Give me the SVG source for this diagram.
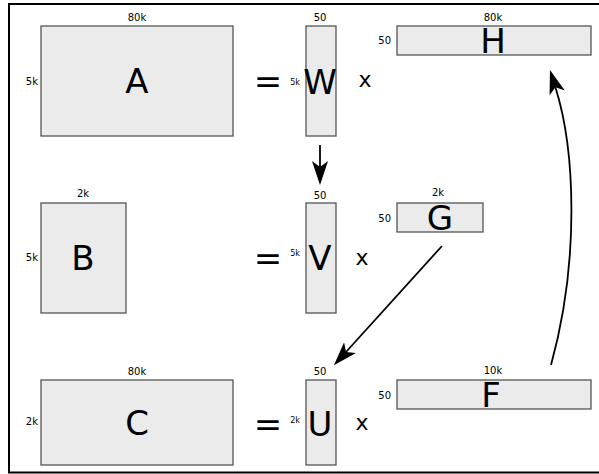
<svg xmlns="http://www.w3.org/2000/svg" width="599" height="474" viewBox="0 0 599 474">
<defs>
<style>
.m{fill:#ebebeb;stroke:#555;stroke-width:1.3}
.big{font-family:"DejaVu Sans",sans-serif;font-size:34px;text-anchor:middle;fill:#000}
.lb{font-family:"DejaVu Sans",sans-serif;font-size:10px;fill:#000}
.sm{font-family:"DejaVu Sans",sans-serif;font-size:8px;fill:#000;text-anchor:end}
.c{text-anchor:middle}
.e{text-anchor:end}
.op{font-family:"DejaVu Sans",sans-serif;font-size:22px;text-anchor:middle;fill:#000}
.eq{font-family:"DejaVu Sans",sans-serif;font-size:34px;text-anchor:middle;fill:#000}
.cn{fill:none;stroke:#000;stroke-width:1.8}
</style>
<marker id="ah" markerUnits="userSpaceOnUse" markerWidth="30" markerHeight="20" viewBox="0 -10 30 20" refX="6" refY="0" orient="auto">
<path d="M24,0 L0,-8 L6,0 L0,8 Z" fill="#000"/>
</marker>
</defs>
<rect x="9" y="4" width="600" height="468.5" fill="#fff" stroke="#000" stroke-width="2"/>

<g id="A">
<rect class="m" x="41" y="26" width="192" height="110"/>
<text class="big" x="137" y="93">A</text>
<text class="lb c" x="137" y="20.5">80k</text>
<text class="lb e" x="38" y="85">5k</text>
</g>
<text class="eq" x="268" y="93">=</text>
<g id="W">
<rect class="m" x="306" y="26" width="30" height="110"/>
<text class="big" x="320" y="94">W</text>
<text class="lb c" x="320" y="20.5">50</text>
<text class="sm" x="300" y="85">5k</text>
</g>
<text class="op" x="365" y="87">x</text>
<g id="H">
<rect class="m" x="397" y="26" width="194" height="29"/>
<text class="big" x="493" y="53">H</text>
<text class="lb c" x="493" y="20.5">80k</text>
<text class="lb e" x="391" y="44">50</text>
</g>

<g id="B">
<rect class="m" x="41" y="203" width="85" height="110"/>
<text class="big" x="83" y="270">B</text>
<text class="lb c" x="83" y="197">2k</text>
<text class="lb e" x="38" y="261">5k</text>
</g>
<text class="eq" x="268" y="270">=</text>
<g id="V">
<rect class="m" x="306" y="203" width="30" height="110"/>
<text class="big" x="320" y="270">V</text>
<text class="lb c" x="320" y="199">50</text>
<text class="sm" x="300" y="256">5k</text>
</g>
<text class="op" x="362" y="265">x</text>
<g id="G">
<rect class="m" x="397" y="203" width="86" height="29"/>
<text class="big" x="440" y="230">G</text>
<text class="lb c" x="438" y="196">2k</text>
<text class="lb e" x="391" y="222">50</text>
</g>

<g id="C">
<rect class="m" x="41" y="380" width="192" height="85"/>
<text class="big" x="137" y="435">C</text>
<text class="lb c" x="137" y="375">80k</text>
<text class="lb e" x="38" y="425">2k</text>
</g>
<text class="eq" x="268" y="436">=</text>
<g id="U">
<rect class="m" x="306" y="380" width="30" height="85"/>
<text class="big" x="320" y="436">U</text>
<text class="lb c" x="320" y="375">50</text>
<text class="sm" x="300" y="423">2k</text>
</g>
<text class="op" x="362" y="430">x</text>
<g id="F">
<rect class="m" x="397" y="380" width="194" height="29"/>
<text class="big" x="491" y="407">F</text>
<text class="lb c" x="493" y="373.5">10k</text>
<text class="lb e" x="391" y="399">50</text>
</g>

<g id="connectors">
<path class="cn" d="M320,145 L320,167" marker-end="url(#ah)"/>
<path class="cn" d="M442,246 L346,352" marker-end="url(#ah)"/>
<path class="cn" d="M551,365 C580,260 575,149 555.4,87.2" marker-end="url(#ah)"/>
</g>
</svg>
